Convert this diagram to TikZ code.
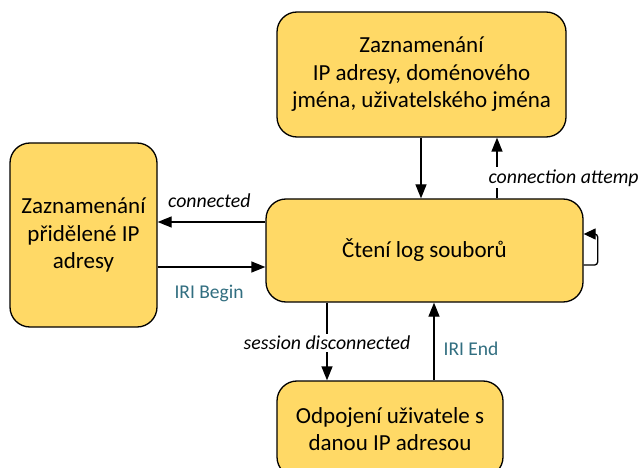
\documentclass[tikz,border=0pt]{standalone}
\usepackage{fontspec}
\setmainfont{Carlito}
\usetikzlibrary{arrows.meta}
\definecolor{boxfill}{RGB}{255,217,102}
\definecolor{tealtext}{RGB}{49,110,128}
\begin{document}
\begin{tikzpicture}[x=1pt,y=-1pt,
  state/.style={draw, line width=1.3pt, fill=boxfill, rounded corners=20pt, align=center,
    font=\fontsize{23}{27.5}\selectfont, inner sep=0pt},
  arr/.style={line width=1.3pt, -{Triangle[length=14pt,width=11pt]}},
  looparr/.style={line width=1.3pt, rounded corners=3pt, -{Triangle[length=12pt,width=11pt]}},
  lab/.style={font=\fontsize{19.8}{22}\selectfont\itshape, fill=white, inner sep=2pt},
  iri/.style={font=\fontsize{19.5}{22}\selectfont, text=tealtext, inner sep=2pt}]
\clip (0,0) rectangle (643,468);
\fill[white] (0,0) rectangle (643,468);
\node[state, minimum width=289pt, minimum height=125pt] (top) at (421.5,74.5)
  {Zaznamenání\\IP adresy, doménového\\jména, uživatelského jména};
\node[state, minimum width=147pt, minimum height=184pt] (left) at (83.5,235)
  {Zaznamenání\\přidělené IP\\adresy};
\node[state, minimum width=317pt, minimum height=103pt] (center) at (424.5,250.5)
  {Čtení log souborů};
\node[state, minimum width=226pt, minimum height=96pt] (bottom) at (390,429)
  {Odpojení uživatele s\\danou IP adresou};
\coordinate (xa) at (421,0);
\coordinate (xb) at (497,0);
\coordinate (xc) at (327,0);
\coordinate (xd) at (434,0);
\coordinate (ya) at (0,222);
\coordinate (yb) at (0,267);
% top -> center
\draw[arr] (top.south -| xa) -- (center.north -| xa);
% center -> top
\draw[arr] (center.north -| xb) -- node[lab, pos=0.339, anchor=west, xshift=-11pt] {connection attemp} (top.south -| xb);
% center -> left (connected)
\draw[arr] (center.west |- ya) -- node[lab, pos=0.52, yshift=21pt, fill=none] {connected} (left.east |- ya);
% left -> center (IRI Begin)
\draw[arr] (left.east |- yb) -- node[iri, pos=0.477, yshift=-26pt] {IRI Begin} (center.west |- yb);
% center -> bottom (session disconnected)
\draw[arr] (center.south -| xc) -- node[lab, pos=0.515] {session disconnected} (bottom.north -| xc);
% bottom -> center (IRI End)
\draw[arr] (bottom.north -| xd) -- node[iri, pos=0.40, anchor=west, xshift=7pt] {IRI End} (center.south -| xd);
% self loop
\draw[looparr] ([yshift=-14.5pt]center.east) -- ++(14,0) -- ++(0,-31) -- ([yshift=16.5pt]center.east);
\end{tikzpicture}
\end{document}
